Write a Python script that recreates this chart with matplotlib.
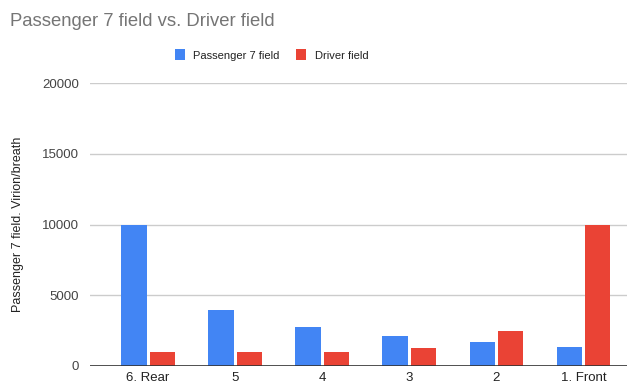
import matplotlib
matplotlib.use("Agg")
import matplotlib.pyplot as plt
import numpy as np
from matplotlib.patches import Patch

plt.rcParams['font.family'] = ['Liberation Sans', 'DejaVu Sans']

categories = ["6. Rear", "5", "4", "3", "2", "1. Front"]
passenger = [10000, 3950, 2780, 2120, 1730, 1350]
driver = [1000, 1000, 1000, 1280, 2460, 10000]
y_ticks = [0, 5000, 10000, 15000, 20000]
series_names = ["Passenger 7 field", "Driver field"]
colors = ["#4285F4", "#EA4335"]

fig = plt.figure(figsize=(6.3, 3.85), dpi=100)
ax = fig.add_axes([90/630, 19/385, 537/630, 283/385])

x = np.arange(len(categories))
w = 0.29
off = 0.163
ax.bar(x - off, passenger, width=w, color=colors[0], zorder=3)
ax.bar(x + off, driver, width=w, color=colors[1], zorder=3)

ax.set_xlim(-0.667, 5.5)
ax.set_ylim(0, 20000)
ax.set_yticks(y_ticks)
ax.set_yticklabels([str(t) for t in y_ticks])
ax.set_xticks(x)
ax.set_xticklabels(categories)
ax.grid(axis='y', color='#cccccc', linewidth=1, zorder=0)
ax.axhline(0, color='#333333', linewidth=1.2, zorder=4)
for s in ax.spines.values():
    s.set_visible(False)
ax.tick_params(axis='both', length=0, labelsize=9.5, colors='#444444')
ax.tick_params(axis='y', pad=8)
ax.tick_params(axis='x', pad=4, labelcolor='#222222')

ax.set_ylabel("Passenger 7 field. Virion/breath", fontsize=9, color='#222222', labelpad=13)

fig.text(10/630, 1 - 22/385, "Passenger 7 field vs. Driver field", fontsize=13.3,
         color='#757575', va='center', ha='left')

handles = [Patch(facecolor=c, edgecolor='none') for c in colors]
leg = fig.legend(handles, series_names, loc='center', bbox_to_anchor=(271.5/630, 1 - 55/385),
                 ncol=2, frameon=False, fontsize=8, handlelength=0.9, handleheight=1.1,
                 handletextpad=0.8, columnspacing=1.45, labelcolor='#222222')

fig.savefig("out.png", dpi=100)
